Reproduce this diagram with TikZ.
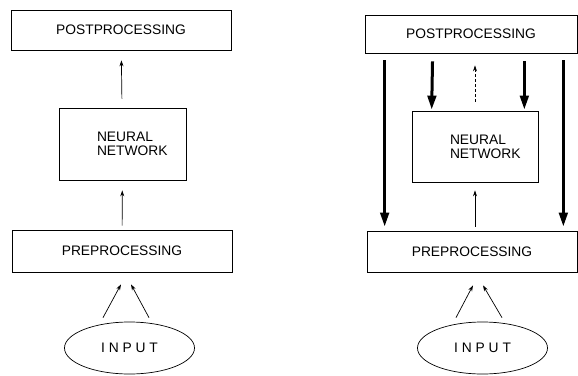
\documentclass[tikz,border=0pt]{standalone}
\usepackage{fontspec}
\setmainfont{Liberation Sans}
\usetikzlibrary{arrows.meta,shapes.geometric}

\begin{document}
\begin{tikzpicture}[x=1pt, y=-1pt, >={Stealth[length=6pt,width=4pt]}, line width=0.7pt, box/.style={draw, inner sep=0pt, font=\fontsize{13.8}{14}\selectfont}, input/.style={ellipse, draw, inner sep=0pt, minimum width=130pt, minimum height=52pt, font=\fontsize{13.8}{14}\selectfont\addfontfeature{LetterSpace=28}}, heavy/.style={line width=3pt, -{Triangle[length=14pt,width=8.5pt]}}]

            \useasboundingbox (0, 0) rectangle (578, 375);

            \node[box, minimum width=220pt, minimum height=40pt] at (121, 30) (post1) {POSTPROCESSING};
            \node[box, minimum width=127pt, minimum height=72pt, text width=110pt, align=left] at (122.5, 144) (nn1) {\hspace*{29.5pt}NEURAL\\\hspace*{29.5pt}NETWORK};
            \node[box, minimum width=220pt, minimum height=42pt] at (122, 251) (pre1) {PREPROCESSING};
            \node[input] at (129.5, 348) (in1) {INPUT};

            \node[box, minimum width=212pt, minimum height=38pt] at (471, 34) (post2) {POSTPROCESSING};
            \node[box, minimum width=126pt, minimum height=71pt, text width=110pt, align=left] at (475, 146.5) (nn2) {\hspace*{30pt}NEURAL\\\hspace*{30pt}NETWORK};
            \node[box, minimum width=210pt, minimum height=41pt] at (472, 251.5) (pre2) {PREPROCESSING};
            \node[input] at (482.5, 348) (in2) {INPUT};

            \path[->] (nn1) edge[shorten <=9pt, shorten >=10pt] (post1);
            \path[->] (pre1) edge[shorten <=4pt, shorten >=10pt] (nn1);
            \path[->] ([shift={(-26.5pt,4pt)}]in1.north) edge ([shift={(-1pt,-12pt)}]pre1.south);
            \path[->] ([shift={(19.5pt,4pt)}]in1.north) edge ([shift={(9pt,-12pt)}]pre1.south);

            \path[->] (nn2.north) edge[densely dashed, shorten <=9pt, shorten >=12pt] (nn2.north |- post2.south);
            \path[->] (nn2.south |- pre2.north) edge[shorten <=4pt, shorten >=8pt] (nn2.south);
            \path[->] ([shift={(-26.5pt,4pt)}]in2.north) edge ([shift={(1pt,-13pt)}]pre2.south);
            \path[->] ([shift={(19.5pt,4pt)}]in2.north) edge ([shift={(11pt,-13pt)}]pre2.south);

            \path[heavy] ([xshift=20pt]post2.south west) edge[shorten <=7pt, shorten >=4pt] ([xshift=18pt]pre2.north west);
            \path[heavy] ([xshift=-14pt]post2.south east) edge[shorten <=7pt, shorten >=4pt] ([xshift=-14pt]pre2.north east);
            \path[heavy] ([xshift=68pt]post2.south west) edge[shorten <=8pt, shorten >=1pt] ([xshift=20pt]nn2.north west);
            \path[heavy] ([xshift=-53pt]post2.south east) edge[shorten <=8pt, shorten >=1pt] ([xshift=-14pt]nn2.north east);
        \end{tikzpicture}
\end{document}
